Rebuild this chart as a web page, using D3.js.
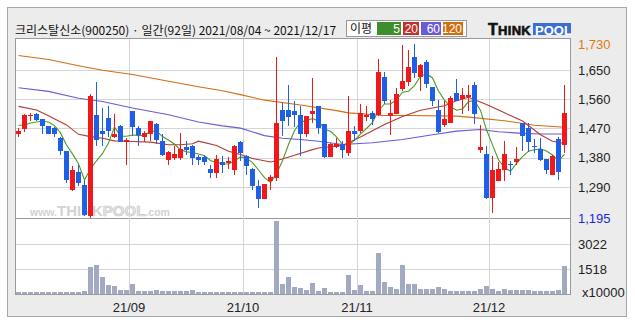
<!DOCTYPE html>
<html>
<head>
<meta charset="utf-8">
<script src="https://cdn.jsdelivr.net/npm/d3@7"></script>
<style>
body { margin: 0; background: #fff; }
text { font-family: "Liberation Sans", "Noto Sans", sans-serif; }
</style>
</head>
<body>
<svg id="chart" width="635" height="322"></svg>
<script>
// trading days 2021/08/04 ~ 2021/12/17 (92 days)
var dates = [
  "08/04","08/05","08/06","08/09","08/10","08/11","08/12","08/13","08/17","08/18","08/19","08/20","08/23","08/24","08/25","08/26","08/27","08/30","08/31",
  "09/01","09/02","09/03","09/06","09/07","09/08","09/09","09/10","09/13","09/14","09/15","09/16","09/17","09/23","09/24","09/27","09/28","09/29","09/30",
  "10/01","10/05","10/06","10/07","10/08","10/12","10/13","10/14","10/15","10/18","10/19","10/20","10/21","10/22","10/25","10/26","10/27","10/28","10/29",
  "11/01","11/02","11/03","11/04","11/05","11/08","11/09","11/10","11/11","11/12","11/15","11/16","11/17","11/18","11/19","11/22","11/23","11/24","11/25","11/26","11/29","11/30",
  "12/01","12/02","12/03","12/06","12/07","12/08","12/09","12/10","12/13","12/14","12/15","12/16","12/17"
];

var opens = [1454,1467,1508,1513,1499,1477,1472,1442,1400,1282, 1335,1296,1200,1511,1463,1502,1445,1477,1429,1525,
  1470,1444,1454,1484,1431,1372,1379,1379,1413,1417, 1382,1382,1345,1333,1367,1364,1343,1428,1385,1345,
  1294,1254,1309,1318,1528,1528,1523,1511,1454,1516, 1539,1484,1382,1412,1423,1395,1462,1462,1506,1518,
  1511,1629,1508,1516,1592,1613,1691,1628,1675,1598, 1528,1482,1487,1580,1562,1567,1605,1405,1392,1256,
  1309,1343,1362,1366,1487,1472,1415,1407,1377,1326, 1438,1420];
var highs = [1470,1513,1518,1518,1500,1479,1474,1444,1400,1354, 1359,1312,1575,1613,1534,1539,1513,1480,1441,1525,
  1477,1462,1494,1487,1453,1400,1417,1456,1431,1420, 1390,1388,1359,1388,1385,1382,1420,1431,1390,1349,
  1312,1299,1328,1691,1549,1605,1554,1539,1508,1626, 1539,1484,1425,1441,1431,1570,1477,1544,1539,1524,
  1685,1645,1559,1595,1725,1711,1730,1667,1680,1598, 1559,1554,1570,1621,1595,1605,1613,1480,1415,1385,
  1367,1431,1369,1413,1487,1487,1438,1441,1377,1390, 1443,1605];
var lows = [1445,1460,1492,1492,1453,1454,1444,1390,1302,1277, 1292,1200,1195,1415,1415,1444,1441,1428,1359,1446,
  1415,1429,1431,1423,1385,1359,1374,1374,1390,1359, 1359,1359,1318,1318,1333,1346,1328,1369,1328,1282,
  1225,1254,1282,1308,1446,1477,1474,1385,1444,1487, 1454,1379,1382,1410,1379,1385,1431,1456,1493,1482,
  1508,1544,1451,1516,1585,1600,1626,1585,1595,1539, 1456,1474,1487,1554,1515,1523,1484,1395,1253,1210,
  1308,1309,1326,1359,1400,1398,1395,1369,1330,1326, 1312,1395];
var closes = [1463,1511,1512,1497,1477,1454,1454,1400,1311,1341, 1302,1205,1570,1436,1454,1462,1453,1428,1434,1474,
  1451,1456,1493,1436,1390,1397,1392,1407,1405,1379, 1374,1367,1333,1376,1359,1369,1415,1395,1354,1294,
  1254,1299,1320,1487,1493,1506,1510,1454,1508,1525, 1470,1382,1423,1423,1405,1462,1454,1518,1511,1499,
  1645,1554,1518,1575,1616,1660,1639,1665,1608,1554, 1460,1499,1564,1554,1573,1573,1515,1413,1256,1341,
  1345,1392,1359,1377,1446,1428,1413,1374,1343,1385, 1335,1518];
// volume, x10000 shares
var volumes = [100,100,100,100,100,100,100,140,140,100, 100,160,1613,1775,1008,565,464,222,262,625,
  202,161,161,242,202,161,161,202,181,222, 100,100,141,141,100,141,141,141,141,141,
  100,100,100,4437,625,1048,443,383,262,685, 202,363,141,141,141,1169,262,565,202,202,
  2500,746,443,322,1775,625,625,282,282,322, 423,322,202,202,202,161,202,302,484,282,
  202,302,222,242,242,222,202,202,161,161, 262,1714];

// moving averages: [day index, value]
var ma5Head = [1480,1480,1487,1490];
var ma20 = [[0,1538],[3,1527],[5,1509],[8,1481],[10,1452],[12,1445],[14,1440],[16,1432],[19,1430],[22,1428],[25,1420],
  [27,1420],[29,1423],[30,1431],[33,1418],[35,1400],[37,1390],[39,1378],[42,1367],[43,1371],[46,1388],[49,1405],
  [50,1410],[54,1418],[57,1444],[61,1482],[64,1507],[67,1526],[69,1533],[71,1540],[73,1555],[75,1566],[78,1544],
  [81,1518],[84,1493],[87,1451],[89,1431],[91,1424]];
var ma60 = [[0,1595],[5,1584],[10,1563],[14,1553],[19,1533],[25,1512],[30,1490],[34,1478],[37,1471],[41,1448],[44,1440],
  [47,1436],[50,1431],[54,1421],[59,1426],[64,1436],[69,1451],[73,1462],[77,1467],[80,1460],[84,1455],[87,1453],[91,1453]];
var ma120 = [[0,1694],[5,1682],[10,1663],[14,1649],[19,1636],[25,1615],[30,1598],[34,1586],[37,1574],[41,1557],[47,1542],
  [53,1525],[55,1518],[61,1510],[65,1510],[73,1508],[75,1505],[81,1494],[86,1480],[91,1474]];

var priceTicks = [1730, 1650, 1560, 1470, 1380, 1290, 1195];
var priceGrid = [1650, 1560, 1470, 1380, 1290];
var volTicks = [3022, 1518];
var legendItems = [
  { label: "5", color: "#3e8e2c" },
  { label: "20", color: "#c0302c" },
  { label: "60", color: "#6a5ad8" },
  { label: "120", color: "#d46c10" }
];

var svg = d3.select("#chart");

// frame
svg.append("rect").attr("x", 7.5).attr("y", 7.5).attr("width", 619).attr("height", 309)
  .style("fill", "#ececec").style("stroke", "#a8a8a8");

var x = d3.scaleBand().domain(dates).range([15, 567]);
var y = d3.scaleLinear().domain([1195, 1748]).range([218, 38]);
var yv = d3.scaleLinear().domain([0, 4530]).range([294, 219]);

// panels
svg.append("rect").attr("x", 15.5).attr("y", 38.5).attr("width", 555).attr("height", 180)
  .style("fill", "#fff").style("stroke", "#999");
svg.append("rect").attr("x", 15.5).attr("y", 218.5).attr("width", 555).attr("height", 76)
  .style("fill", "#fff").style("stroke", "#999");

// grid
var grid = svg.append("g").style("stroke", "#d6d6d6").style("stroke-width", 1);
grid.selectAll(".hp").data(priceGrid).enter().append("line")
  .attr("x1", 16).attr("x2", 570)
  .attr("y1", function (d) { return Math.round(y(d)) + 0.5; })
  .attr("y2", function (d) { return Math.round(y(d)) + 0.5; });
grid.selectAll(".hv").data(volTicks).enter().append("line")
  .attr("x1", 16).attr("x2", 570)
  .attr("y1", function (d) { return Math.round(yv(d)) + 0.5; })
  .attr("y2", function (d) { return Math.round(yv(d)) + 0.5; });

var monthStarts = dates.filter(function (d, i) { return i > 0 && d.slice(0, 2) !== dates[i - 1].slice(0, 2); });
grid.selectAll(".vm").data(monthStarts).enter().append("line")
  .attr("x1", function (d) { return x(d) + 0.5; })
  .attr("x2", function (d) { return x(d) + 0.5; })
  .attr("y1", 39).attr("y2", 294);

// watermark
var wm = svg.append("text").attr("x", 30).attr("y", 216).style("fill", "#d2d2d2")
  .style("font-family", "Liberation Sans, sans-serif").style("font-weight", "bold");
wm.append("tspan").text("www.").style("font-size", "10.5px");
wm.append("tspan").text("THINK").style("font-size", "15px");
wm.append("tspan").text("POOL").style("font-size", "15px")
  .style("fill", "#e6e6e6").style("stroke", "#c8c8c8").style("stroke-width", 0.7);
wm.append("tspan").text(".com").style("font-size", "10.5px");

// volume bars
svg.append("g").selectAll("rect").data(volumes).enter().append("rect")
  .attr("x", function (d, i) { return x(dates[i]) + 1; })
  .attr("width", 5)
  .attr("y", function (d) { return Math.round(yv(d)); })
  .attr("height", function (d) { return 294 - Math.round(yv(d)); })
  .style("fill", "#a2aac2");

// moving averages
var line = d3.line()
  .x(function (d) { return x(dates[d[0]]) + 3.5; })
  .y(function (d) { return y(d[1]); });

var ma5 = closes.map(function (c, i) {
  if (i < 4) return [i, ma5Head[i]];
  return [i, d3.mean(closes.slice(i - 4, i + 1))];
});

var maSeries = [
  { pts: ma120, color: "#d46c10" },
  { pts: ma60, color: "#6a5ad8" },
  { pts: ma20, color: "#b23a34" },
  { pts: ma5, color: "#4a9a26" }
];
svg.append("g").selectAll("path").data(maSeries).enter().append("path")
  .attr("d", function (d) { return line(d.pts); })
  .style("fill", "none")
  .style("stroke", function (d) { return d.color; })
  .style("stroke-width", 1.1);

// candles
var candles = svg.append("g").attr("shape-rendering", "crispEdges").selectAll("g")
  .data(dates).enter().append("g")
  .style("stroke", function (d, i) { return closes[i] >= opens[i] ? "#f01818" : "#1f5fe6"; })
  .style("fill", function (d, i) { return closes[i] >= opens[i] ? "#f01818" : "#1f5fe6"; });

candles.append("line")
  .attr("x1", function (d) { return x(d) + 3.5; })
  .attr("x2", function (d) { return x(d) + 3.5; })
  .attr("y1", function (d, i) { return y(highs[i]); })
  .attr("y2", function (d, i) { return y(lows[i]); });

candles.append("rect")
  .attr("x", function (d) { return x(d) + 1; })
  .attr("width", 5)
  .attr("y", function (d, i) { return y(Math.max(opens[i], closes[i])); })
  .attr("height", function (d, i) { return Math.max(1, Math.abs(y(opens[i]) - y(closes[i]))); })
  .style("stroke", "none");

// axes
var priceAxis = svg.append("g").attr("transform", "translate(571,0)")
  .call(d3.axisRight(y).tickValues(priceTicks).tickSize(0).tickPadding(7).tickFormat(d3.format(",")));
priceAxis.select(".domain").remove();
priceAxis.selectAll("text").style("font-size", "13px").style("font-family", "Liberation Sans, sans-serif")
  .style("fill", function (d) { return d === 1730 ? "#e07a10" : d === 1195 ? "#1a2ad8" : "#222"; });

var volAxis = svg.append("g").attr("transform", "translate(571,0)")
  .call(d3.axisRight(yv).tickValues(volTicks).tickSize(0).tickPadding(7).tickFormat(d3.format("d")));
volAxis.select(".domain").remove();
volAxis.selectAll("text").style("font-size", "13px").style("fill", "#222");
svg.append("text").attr("x", 582).attr("y", 297).text("x10000")
  .style("font-size", "13px").style("fill", "#222");

var timeAxis = svg.append("g").attr("transform", "translate(-3,295)")
  .call(d3.axisBottom(x).tickValues(monthStarts).tickSize(0).tickPadding(8)
    .tickFormat(function (d) { return "21/" + d.slice(0, 2); }));
timeAxis.select(".domain").remove();
timeAxis.selectAll("text").style("font-size", "13px").style("fill", "#222");

// title
svg.append("text").attr("x", 15).attr("y", 35)
  .style("font-family", "Noto Sans CJK KR, sans-serif").style("font-size", "12px").style("fill", "#111")
  .text("크리스탈신소(900250) · 일간(92일) 2021/08/04 ~ 2021/12/17");

// legend
var lg = svg.append("g");
lg.append("rect").attr("x", 346.5).attr("y", 20.5).attr("width", 120).attr("height", 16)
  .style("fill", "#fff").style("stroke", "#999");
lg.append("text").attr("x", 350).attr("y", 33).text("이평")
  .style("font-family", "Noto Sans CJK KR, sans-serif").style("font-size", "12px").style("fill", "#111");
var boxX = [377, 403, 421, 443];
var boxW = [24, 16, 20, 20];
lg.selectAll(".lb").data(legendItems).enter().append("rect")
  .attr("x", function (d, i) { return boxX[i]; }).attr("y", 22)
  .attr("width", function (d, i) { return boxW[i]; }).attr("height", 13)
  .style("fill", function (d) { return d.color; });
lg.selectAll(".lt").data(legendItems).enter().append("text")
  .attr("x", function (d, i) { return boxX[i] + boxW[i] - 1; }).attr("y", 33)
  .attr("text-anchor", "end").text(function (d) { return d.label; })
  .style("font-size", "12px").style("fill", "#fff");

// logo
var logo = svg.append("g");
var lt = logo.append("text").attr("x", 488).attr("y", 35).style("font-weight", "900").style("fill", "#111")
  .style("stroke", "#111").style("stroke-width", 0.6).style("letter-spacing", "0.3px")
  .style("font-family", "Liberation Sans, sans-serif");
lt.append("tspan").text("T").style("font-size", "16px");
lt.append("tspan").text("HINK").style("font-size", "13px");
logo.append("rect").attr("x", 533).attr("y", 23).attr("width", 38).attr("height", 12).style("fill", "#3c6fd6");
logo.append("text").attr("x", 535).attr("y", 34.5).text("POOL")
  .style("font-size", "13px").style("font-weight", "bold").style("fill", "#fff")
  .style("font-family", "Liberation Sans, sans-serif");
</script>
</body>
</html>
